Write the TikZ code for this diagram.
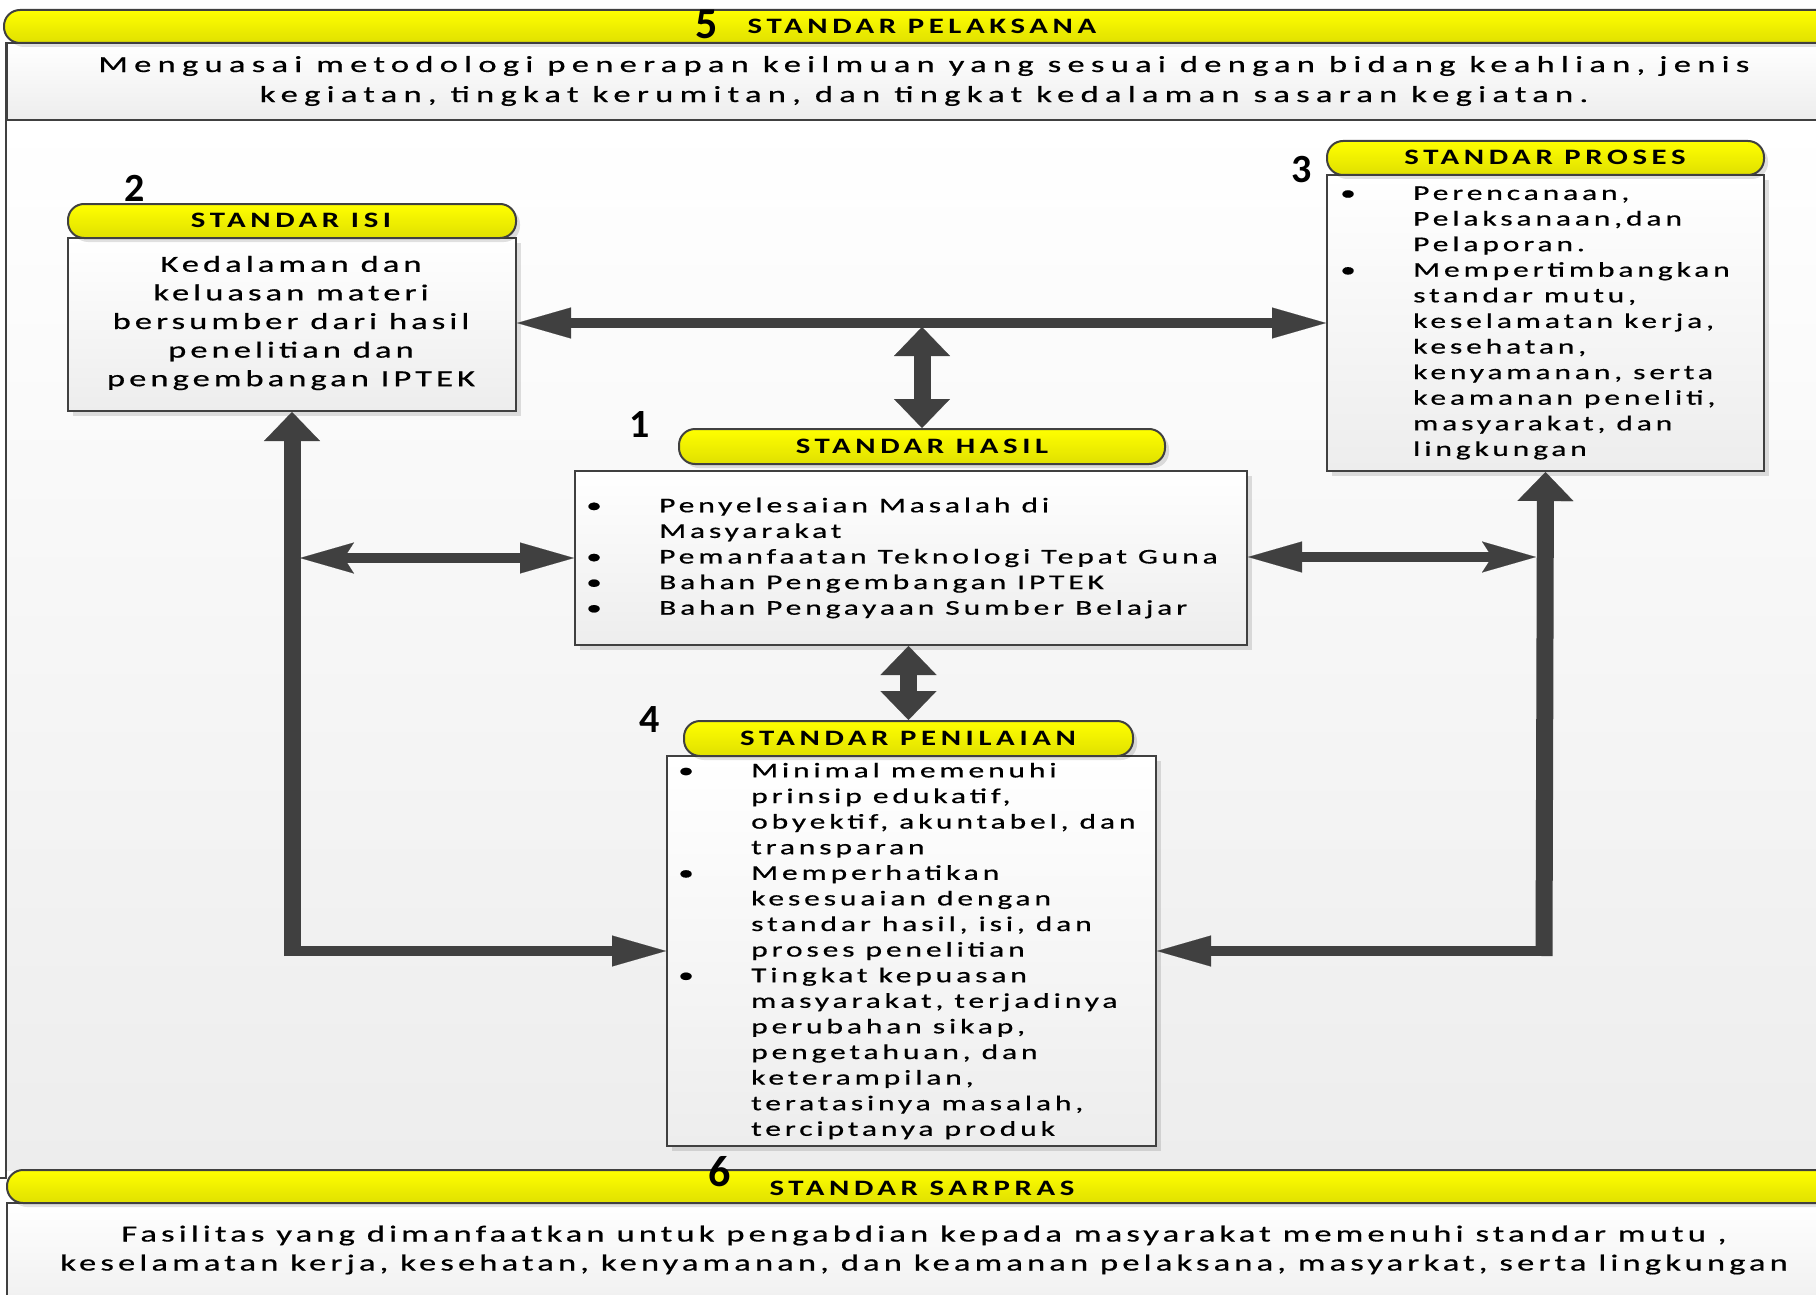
\documentclass[tikz,border=0pt]{standalone}
\usepackage{fontspec}
\setmainfont{Carlito}
\newfontfamily\bodyfont{Carlito}[FakeStretch=1.5,LetterSpace=18.5,FakeBold=0.6]
\newfontfamily\boxtwofont{Carlito}[FakeStretch=1.5,LetterSpace=17.7,FakeBold=0.6]
\newfontfamily\bannerfont{Carlito}[FakeStretch=1.5,LetterSpace=27.3,FakeBold=0.6]
\newfontfamily\bannerfontb{Carlito}[FakeStretch=1.5,LetterSpace=18.1,FakeBold=0.6]
\newfontfamily\headfont{Carlito}[FakeStretch=1.4,LetterSpace=21]
\newfontfamily\numfont{Carlito}
\usetikzlibrary{arrows.meta,shadows}
\definecolor{dk}{HTML}{404040}
\definecolor{yl}{HTML}{FFFF00}
\definecolor{yl2}{HTML}{E0E000}
\definecolor{bgb}{HTML}{EDEDED}
\newcommand\bul{\makebox[73pt][l]{\textbullet}}
\newcommand\ind{\hspace*{73pt}}
\tikzset{
  pill/.style={draw=dk, line width=2pt, rounded corners=16pt, top color=yl, bottom color=yl2, inner sep=0pt,
     drop shadow={shadow xshift=4pt, shadow yshift=-4pt, opacity=0.12, fill=black}},
  box/.style={draw=dk, line width=2pt, top color=white, bottom color=bgb, inner sep=0pt,
     drop shadow={shadow xshift=5pt, shadow yshift=-5pt, opacity=0.12, fill=black}},
  bigbox/.style={draw=dk, line width=2pt, top color=white, bottom color=bgb, inner sep=0pt},
  hd/.style={font=\headfont\bfseries\fontsize{22}{24}\selectfont, inner sep=0pt},
  numst/.style={font=\numfont\bfseries\fontsize{40}{40}\selectfont, inner sep=0pt},
  bignum/.style={font=\numfont\bfseries\fontsize{44}{44}\selectfont, inner sep=0pt},
  bodytxt/.style={font=\bodyfont\fontsize{21}{25.6}\selectfont, align=left, inner sep=0pt, anchor=west},
  thinarr/.style={draw=dk, line width=10pt},
  thickarr/.style={draw=dk, line width=17pt},
  thintip/.tip={Triangle[length=54pt,width=31pt,line width=0.1pt]},
  thinnotch/.tip={Stealth[length=54pt,width=31pt,inset=10pt,line width=0.1pt]},
  thicktip/.tip={Triangle[length=29pt,width=56pt,line width=0.1pt]},
}
\begin{document}
\begin{tikzpicture}[x=1pt,y=-1pt]
\useasboundingbox (0,0) rectangle (1816,1295);
\clip (0,0) rectangle (1816,1295);
\fill[white] (0,0) rectangle (1816,1295);
% large background panel
\shade[top color=white, bottom color=bgb] (6,119) rectangle (1840,1170);
\draw[dk, line width=2pt] (6,42) -- (6,1178) -- (-5,1178);

% top banner (5)
\node[bigbox, anchor=north west, minimum width=1850pt, minimum height=77pt] (B5) at (6,42) {};
\node[pill, anchor=north west, minimum width=1850pt, minimum height=33pt] (P5) at (3,9) {};
\node[bignum] (n5) at (707,24) {5};
\node[hd] (h5) at (922,26) {STANDAR PELAKSANA};
\node[font=\bannerfont\fontsize{23}{30}\selectfont, align=center, inner sep=0pt] (t5) at (924,81)
  {Menguasai metodologi penerapan keilmuan yang sesuai dengan bidang keahlian, jenis\\
   kegiatan, tingkat kerumitan, dan tingkat kedalaman sasaran kegiatan.};

% bottom banner (6)
\node[bigbox, anchor=north west, minimum width=1850pt, minimum height=120pt] (B6) at (6,1202) {};
\node[pill, anchor=north west, minimum width=1850pt, minimum height=33pt] (P6) at (6,1169) {};
\node[bignum] (n6) at (720,1172) {6};
\node[hd] (h6) at (922,1188) {STANDAR SARPRAS};
\node[font=\bannerfontb\fontsize{23}{29}\selectfont, align=center, inner sep=0pt] (t6) at (924,1250)
  {Fasilitas yang dimanfaatkan untuk pengabdian kepada masyarakat memenuhi standar mutu ,\\
   keselamatan kerja, kesehatan, kenyamanan, dan keamanan pelaksana, masyarkat, serta lingkungan};

% box 2 : STANDAR ISI
\node[box, anchor=north west, minimum width=448pt, minimum height=173pt] (B2) at (67,237) {};
\node[pill, anchor=north west, minimum width=448pt, minimum height=34pt] (P2) at (67,203) {};
\node[hd] (h2) at (291,220) {STANDAR ISI};
\node[numst] (n2) at (135,188) {2};
\node[font=\boxtwofont\fontsize{23}{28.6}\selectfont, align=center, inner sep=0pt] (t2) at (291,323)
  {Kedalaman dan\\ keluasan materi\\ bersumber dari hasil\\ penelitian dan\\ pengembangan IPTEK};

% box 3 : STANDAR PROSES
\node[box, anchor=north west, minimum width=437pt, minimum height=296pt] (B3) at (1326,174) {};
\node[pill, anchor=north west, minimum width=437pt, minimum height=34pt] (P3) at (1326,140) {};
\node[hd] (h3) at (1545,157) {STANDAR PROSES};
\node[numst] (n3) at (1302,170) {3};
\node[bodytxt] (t3) at (1340,323)
  {\bul Perencanaan,\\ \ind Pelaksanaan,dan\\ \ind Pelaporan.\\
   \bul Mempertimbangkan\\ \ind standar mutu,\\ \ind keselamatan kerja,\\ \ind kesehatan,\\
   \ind kenyamanan, serta\\ \ind keamanan peneliti,\\ \ind masyarakat, dan\\ \ind lingkungan};

% box 1 : STANDAR HASIL
\node[box, anchor=north west, minimum width=672pt, minimum height=174pt] (B1) at (574,470) {};
\node[pill, anchor=north west, minimum width=486pt, minimum height=35pt] (P1) at (678,428) {};
\node[hd] (h1) at (922,446) {STANDAR HASIL};
\node[numst] (n1) at (640,425) {1};
\node[bodytxt] (t1) at (586,558)
  {\bul Penyelesaian Masalah di\\ \ind Masyarakat\\ \bul Pemanfaatan Teknologi Tepat Guna\\
   \bul Bahan Pengembangan IPTEK\\ \bul Bahan Pengayaan Sumber Belajar};

% box 4 : STANDAR PENILAIAN
\node[box, anchor=north west, minimum width=489pt, minimum height=390pt] (B4) at (666,755) {};
\node[pill, anchor=north west, minimum width=449pt, minimum height=35pt] (P4) at (683,720) {};
\node[hd] (h4) at (908,738) {STANDAR PENILAIAN};
\node[numst] (n4) at (650,720) {4};
\node[bodytxt] (t4) at (678,951)
  {\bul Minimal memenuhi\\ \ind prinsip edukatif,\\ \ind obyektif, akuntabel, dan\\ \ind transparan\\
   \bul Memperhatikan\\ \ind kesesuaian dengan\\ \ind standar hasil, isi, dan\\ \ind proses penelitian\\
   \bul Tingkat kepuasan\\ \ind masyarakat, terjadinya\\ \ind perubahan sikap,\\ \ind pengetahuan, dan\\
   \ind keterampilan,\\ \ind teratasinya masalah,\\ \ind terciptanya produk};

% connector points
\coordinate (cTop) at (922,327);
\coordinate (cL) at (292,951);
\coordinate (cLb) at (292,956);
\coordinate (cLm) at (300,558);
\coordinate (cR) at (1544,951);
\coordinate (cRb) at (1544,956);
\coordinate (cRm) at (1536,557);

% arrows
\draw[thinarr, {thintip}-{thintip}] (B2.east |- B3.west) -- (B3.west);
\draw[thickarr, {thicktip}-{thicktip}] (cTop) -- (P1.north);
\draw[thickarr, -{thicktip}] (cLb) -- (B2.south);
\draw[thinarr, -{thintip}] (cL) -- (B4.west |- cL);
\draw[thinarr, {thinnotch}-{thintip}] (cLm) -- (B1.west |- cLm);
\draw[thickarr, -{thicktip}] (cRb) -- (B3.south);
\draw[thinarr, -{thintip}] (cR) -- (B4.east |- cR);
\draw[thinarr, {thintip}-{thinnotch}] (B1.east |- cRm) -- (cRm);
\draw[thickarr, {thicktip}-{thicktip}] (B1.south -| P4.north) -- (P4.north);
\end{tikzpicture}
\end{document}
